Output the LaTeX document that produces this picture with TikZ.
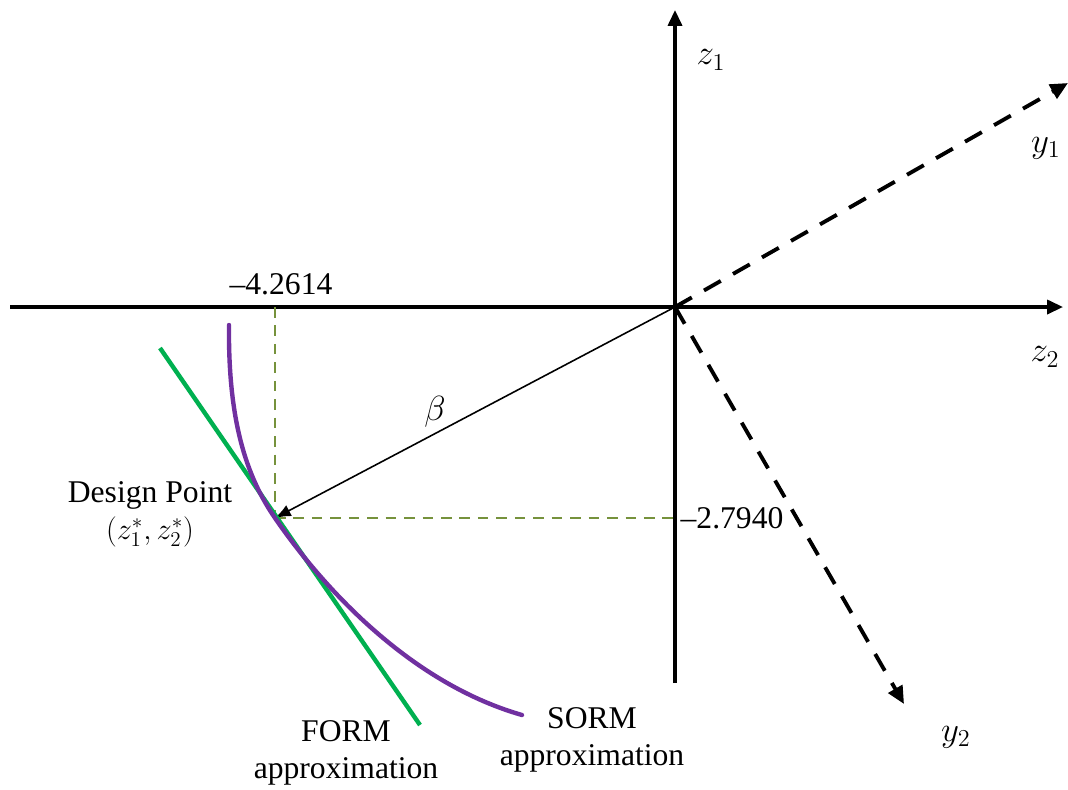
\documentclass[tikz,border=0pt]{standalone}
\usepackage{amsmath}
\usepackage{fontspec}
\setmainfont{Liberation Serif}
\usepackage{tikz}
\usetikzlibrary{arrows.meta, positioning, calc}
\definecolor{formgreen}{RGB}{0,176,80}
\definecolor{sormpurple}{RGB}{112,48,160}
\definecolor{guidegreen}{RGB}{118,146,60}

\begin{document}
\begin{tikzpicture}[x=0.02cm, y=-0.02cm, font=\fontsize{18}{21}\selectfont,
  axis/.style={line width=1.8pt, -{Triangle[length=9pt, width=8pt]}},
  rotaxis/.style={line width=2.2pt, dash pattern=on 11pt off 8pt, -{Triangle[length=10pt, width=9pt]}},
  guide/.style={guidegreen, line width=1.3pt, dash pattern=on 6pt off 4.5pt},
  lbl/.style={inner sep=1pt}]
  \useasboundingbox (0,0) rectangle (1068,789);
  % ================================================================
  % axes
  % ================================================================
  \coordinate (O) at (675,307);
  \coordinate (D) at (275,518);
  \coordinate (z2l) at (10,307);
  \coordinate (z2r) at (1063,307);
  \coordinate (z1b) at (675,683);
  \coordinate (z1t) at (675,10);
  \coordinate (y1t) at (1068,83);
  \coordinate (y2t) at (904,704);
  \draw[axis] (z2l) -- (z2r);
  \draw[axis] (z1b) -- (z1t);
  \draw[rotaxis] (O) -- (y1t);
  \draw[rotaxis] (O) -- (y2t);
  \node[lbl, scale=1.15] (z1) at (711,60) {$z_1$};
  \node[lbl, scale=1.15] (z2) at (1045,357) {$z_2$};
  \node[lbl, scale=1.15] (y1) at (1046,148) {$y_1$};
  \node[lbl, scale=1.15] (y2) at (956,737) {$y_2$};
  % design point projections -----------------------------------------
  \coordinate (Dx) at (275,307);
  \coordinate (Dy) at (675,518);
  \draw[guide] (Dx) -- (D);
  \draw[guide] (D) -- (Dy);
  \node[lbl] (ux) at (281,284) {--4.2614};
  \node[lbl, right=2pt of Dy] (uy) {--2.7940};
  % reliability index ------------------------------------------------
  \draw[line width=0.9pt, -{Latex[length=9pt, width=7pt]}] (O) -- (D)
    node[pos=0.6, above, lbl, yshift=2pt, scale=1.15] (beta) {$\beta$};
  % limit state approximations ---------------------------------------
  \coordinate (F1) at (160,348);
  \coordinate (F2) at (420,725);
  \draw[formgreen, line width=2.5pt] (F1) -- (F2);
  \coordinate (S1) at (229,325);
  \coordinate (S2) at (522,715);
  \draw[sormpurple, line width=2.5pt, line cap=round]
    (S1) .. controls (228,420) and (246,476) .. (D)
         .. controls (312,572) and (400,680) .. (S2);
  % labels ------------------------------------------------------------
  \node[align=center, lbl] (dp) at (150,514) {Design Point\\$(z_1^*,z_2^*)$};
  \node[align=center, lbl] (form) at (346,753) {FORM\\approximation};
  \node[align=center, lbl] (sorm) at (592,740) {SORM\\approximation};
\end{tikzpicture}
\end{document}
